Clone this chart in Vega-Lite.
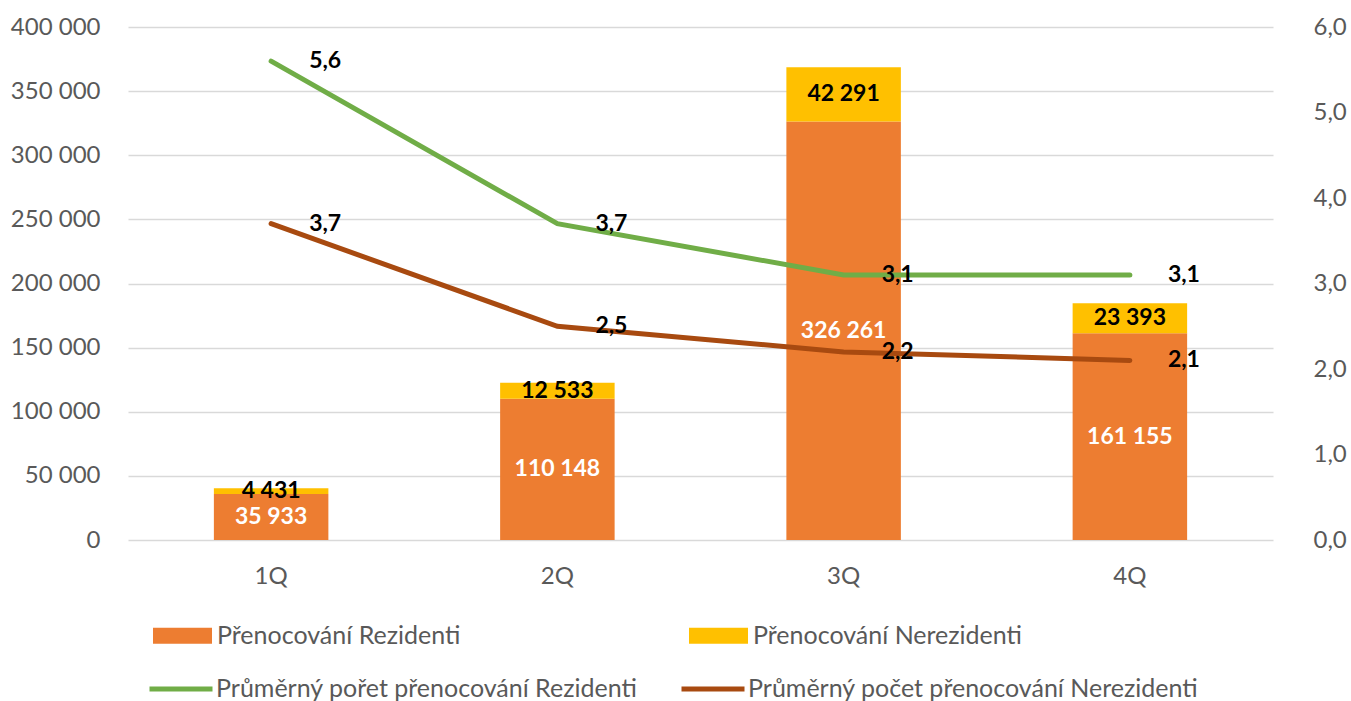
{
  "$schema": "https://vega.github.io/schema/vega-lite/v6.json",
  "width": 1145,
  "height": 513,
  "autosize": {"type": "none"},
  "padding": {"left": 128, "top": 27, "right": 78, "bottom": 161},
  "background": "white",
  "config": {
    "font": "Lato",
    "locale": {"number": {"decimal": ",", "thousands": " ", "grouping": [3], "currency": ["", ""]}},
    "view": {"stroke": null},
    "axis": {"labelFont": "Lato", "labelFontSize": 24, "labelColor": "#595959", "domain": false, "ticks": false, "title": null}
  },
  "datasets": {
    "prenocovani": [
      {"ctvrtleti": "1Q", "typ": "Přenocování Rezidenti", "hodnota": 35933},
      {"ctvrtleti": "1Q", "typ": "Přenocování Nerezidenti", "hodnota": 4431},
      {"ctvrtleti": "2Q", "typ": "Přenocování Rezidenti", "hodnota": 110148},
      {"ctvrtleti": "2Q", "typ": "Přenocování Nerezidenti", "hodnota": 12533},
      {"ctvrtleti": "3Q", "typ": "Přenocování Rezidenti", "hodnota": 326261},
      {"ctvrtleti": "3Q", "typ": "Přenocování Nerezidenti", "hodnota": 42291},
      {"ctvrtleti": "4Q", "typ": "Přenocování Rezidenti", "hodnota": 161155},
      {"ctvrtleti": "4Q", "typ": "Přenocování Nerezidenti", "hodnota": 23393}
    ],
    "prumer": [
      {"ctvrtleti": "1Q", "typ": "Průměrný pořet přenocování Rezidenti", "prumer": 5.6},
      {"ctvrtleti": "2Q", "typ": "Průměrný pořet přenocování Rezidenti", "prumer": 3.7},
      {"ctvrtleti": "3Q", "typ": "Průměrný pořet přenocování Rezidenti", "prumer": 3.1},
      {"ctvrtleti": "4Q", "typ": "Průměrný pořet přenocování Rezidenti", "prumer": 3.1},
      {"ctvrtleti": "1Q", "typ": "Průměrný počet přenocování Nerezidenti", "prumer": 3.7},
      {"ctvrtleti": "2Q", "typ": "Průměrný počet přenocování Nerezidenti", "prumer": 2.5},
      {"ctvrtleti": "3Q", "typ": "Průměrný počet přenocování Nerezidenti", "prumer": 2.2},
      {"ctvrtleti": "4Q", "typ": "Průměrný počet přenocování Nerezidenti", "prumer": 2.1}
    ]
  },
  "encoding": {
    "x": {
      "field": "ctvrtleti",
      "type": "ordinal",
      "scale": {"paddingInner": 0.6, "paddingOuter": 0.3},
      "axis": {"labelAngle": 0, "labelPadding": 24, "grid": false, "labelBaseline": "top"}
    }
  },
  "layer": [
    {
      "data": {"name": "prenocovani"},
      "layer": [
        {
          "mark": {"type": "bar"},
          "encoding": {
            "y": {
              "field": "hodnota",
              "type": "quantitative",
              "stack": "zero",
              "scale": {"domain": [0, 400000]},
              "axis": {
                "orient": "left",
                "values": [0, 50000, 100000, 150000, 200000, 250000, 300000, 350000, 400000],
                "format": ",.0f",
                "grid": true,
                "gridColor": "#D9D9D9",
                "gridWidth": 1.5,
                "labelPadding": 28
              }
            },
            "color": {
              "field": "typ",
              "type": "nominal",
              "scale": {"domain": ["Přenocování Rezidenti", "Přenocování Nerezidenti"], "range": ["#ED7D31", "#FFC000"]},
              "legend": {
                "orient": "none",
                "legendX": 25,
                "legendY": 579,
                "direction": "horizontal",
                "title": null,
                "padding": 0,
                "symbolType": "M-1,-0.27H1V0.27H-1Z",
                "symbolSize": 3481,
                "symbolStrokeWidth": 0,
                "labelFont": "Lato",
                "labelFontSize": 25,
                "labelColor": "#595959",
                "labelOffset": 5,
                "labelLimit": 800,
                "columnPadding": 228
              }
            },
            "order": {"field": "typ", "sort": "descending"}
          }
        },
        {
          "transform": [
            {"stack": "hodnota", "groupby": ["ctvrtleti"], "sort": [{"field": "typ", "order": "descending"}], "as": ["v0", "v1"]},
            {"calculate": "(datum.v0 + datum.v1) / 2", "as": "stred"}
          ],
          "mark": {"type": "text", "fontWeight": "bold", "fontSize": 23, "baseline": "middle", "align": "center", "font": "Lato"},
          "encoding": {
            "y": {"field": "stred", "type": "quantitative", "stack": null},
            "text": {"field": "hodnota", "type": "quantitative", "format": ",.0f"},
            "color": {
              "condition": {"test": "datum.typ === 'Přenocování Rezidenti'", "value": "#FFFFFF"},
              "value": "#000000"
            }
          }
        }
      ]
    },
    {
      "data": {"name": "prumer"},
      "layer": [
        {
          "mark": {"type": "line", "strokeWidth": 5, "strokeCap": "round"},
          "encoding": {
            "y": {
              "field": "prumer",
              "type": "quantitative",
              "scale": {"domain": [0, 6]},
              "axis": {
                "orient": "right",
                "values": [0, 1, 2, 3, 4, 5, 6],
                "format": ".1f",
                "grid": false,
                "labelPadding": 40
              }
            },
            "stroke": {
              "field": "typ",
              "type": "nominal",
              "scale": {"domain": ["Průměrný pořet přenocování Rezidenti", "Průměrný počet přenocování Nerezidenti"], "range": ["#70AD47", "#A84A10"]},
              "legend": {
                "orient": "none",
                "legendX": 19,
                "legendY": 628,
                "direction": "horizontal",
                "title": null,
                "padding": 0,
                "symbolType": "stroke",
                "symbolSize": 3969,
                "symbolStrokeWidth": 5,
                "labelFont": "Lato",
                "labelFontSize": 25,
                "labelColor": "#595959",
                "labelOffset": 1,
                "labelLimit": 800,
                "columnPadding": 33
              }
            }
          }
        },
        {
          "mark": {"type": "text", "fontWeight": "bold", "fontSize": 23, "baseline": "middle", "align": "left", "dx": 38, "font": "Lato", "color": "#000000"},
          "encoding": {
            "y": {"field": "prumer", "type": "quantitative", "stack": null},
            "detail": {"field": "typ", "type": "nominal"},
            "text": {"field": "prumer", "type": "quantitative", "format": ".1f"}
          }
        }
      ]
    }
  ],
  "resolve": {"scale": {"y": "independent"}}
}
